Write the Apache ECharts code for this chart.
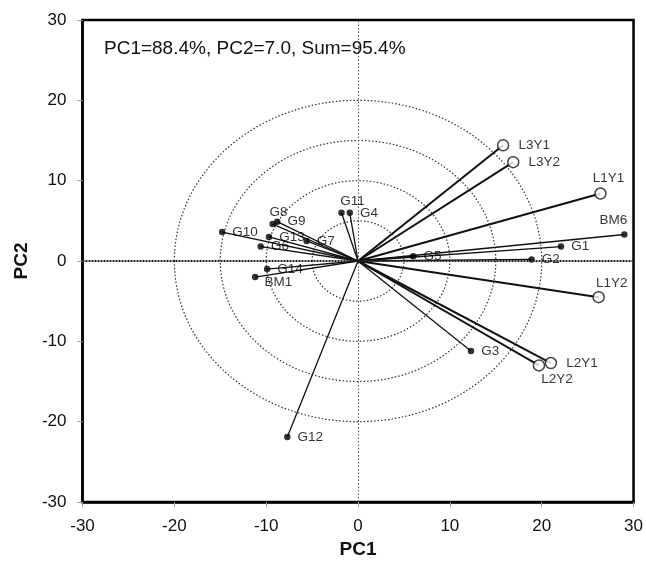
<!DOCTYPE html>
<html>
<head>
<meta charset="utf-8">
<script src="https://cdn.jsdelivr.net/npm/echarts@6/dist/echarts.min.js"></script>
<style>
  html, body { margin: 0; padding: 0; background: #fff; }
  #chart { width: 646px; height: 564px; }
</style>
</head>
<body>
<div id="chart"></div>
<script>
// loadings
const names = ['L3Y1', 'L3Y2', 'L1Y1', 'BM6', 'G1', 'G5', 'G2', 'L1Y2', 'G3', 'L2Y1', 'L2Y2', 'G12',
  'G10', 'G8', 'G9', 'G13', 'G6', 'G7', 'G11', 'G4', 'G14', 'BM1']
const pc1 = [15.8, 16.9, 26.4, 29.0, 22.1, 6.0, 18.9, 26.2, 12.3, 21.0, 19.7, -7.7,
  -14.8, -9.3, -8.8, -9.7, -10.6, -5.6, -1.8, -0.9, -9.9, -11.2]
const pc2 = [14.4, 12.3, 8.4, 3.3, 1.8, 0.6, 0.2, -4.5, -11.2, -12.7, -13.0, -21.9,
  3.6, 4.6, 4.9, 3.0, 1.8, 2.5, 6.0, 6.0, -1.0, -2.0]
const ringRadii = [5, 10, 15, 20]
const ticks = [-30, -20, -10, 0, 10, 20, 30]
const subtitle = 'PC1=88.4%, PC2=7.0, Sum=95.4%'

const font = 'Liberation Sans, Arial, sans-serif'

// label placement per point (default: right)
const labelPlace = {
  G8: { position: 'top', distance: 2, offset: [6, 0] },
  G11: { position: 'top', distance: 1, offset: [11, 0] },
  L1Y1: { position: 'top', distance: 2, offset: [8, 0] },
  BM6: { position: 'top', distance: 4, offset: [-11, 0] },
  L1Y2: { position: 'top', distance: 1, offset: [13, 0] },
  L2Y2: { position: 'bottom', distance: 1, offset: [18, 0] },
  BM1: { position: 'right', distance: 6, offset: [0, 5] },
}

const isOpen = (n) => n.startsWith('L')

function pointItem(i) {
  const n = names[i]
  const place = labelPlace[n] || { position: 'right', distance: isOpen(n) ? 9 : 7 }
  return {
    name: n,
    value: [pc1[i], pc2[i]],
    label: { show: true, formatter: '{b}', ...place },
  }
}

const idx = names.map((_, i) => i)
const openItems = idx.filter((i) => isOpen(names[i])).map(pointItem)
const filledItems = idx.filter((i) => !isOpen(names[i])).map(pointItem)

const chart = echarts.init(document.getElementById('chart'))
chart.setOption({
  animation: false,
  textStyle: { fontFamily: font },
  title: {
    text: subtitle,
    left: 99,
    top: 34,
    textStyle: { fontSize: 19, fontWeight: 'normal', color: '#111', fontFamily: font },
  },
  grid: {
    left: 82.5,
    right: 10.5,
    top: 20,
    bottom: 62,
    show: true,
    borderColor: '#000',
    borderWidth: 2.5,
  },
  xAxis: {
    type: 'value',
    min: -30,
    max: 30,
    interval: 10,
    name: 'PC1',
    nameLocation: 'middle',
    nameGap: 38,
    nameTextStyle: { fontSize: 19, fontWeight: 'bold', color: '#111', fontFamily: font },
    axisLine: { onZero: false, lineStyle: { color: '#000', width: 2.5 } },
    axisTick: { show: true, length: 5, lineStyle: { color: '#999', width: 1 } },
    axisLabel: { fontSize: 17, color: '#111', margin: 16, customValues: ticks },
    splitLine: { show: false },
  },
  yAxis: {
    type: 'value',
    min: -30,
    max: 30,
    interval: 10,
    name: 'PC2',
    nameLocation: 'middle',
    nameGap: 50,
    nameTextStyle: { fontSize: 19, fontWeight: 'bold', color: '#111', fontFamily: font },
    axisLine: { onZero: false, lineStyle: { color: '#000', width: 2.5 } },
    axisTick: { show: true, length: 5, lineStyle: { color: '#999', width: 1 } },
    axisLabel: { fontSize: 17, color: '#111', margin: 16 },
    splitLine: { show: false },
  },
  series: [
    {
      // dotted rings
      type: 'custom',
      coordinateSystem: 'cartesian2d',
      silent: true,
      data: ringRadii.map((r) => [r, 0]),
      renderItem(params, api) {
        const r = api.value(0)
        const c = api.coord([0, 0])
        return {
          type: 'ellipse',
          shape: { cx: c[0], cy: c[1], rx: api.size([r, 0])[0], ry: api.size([0, r])[1] },
          style: { fill: 'none', stroke: '#333', lineWidth: 1.2, lineDash: [1.5, 2] },
        }
      },
      markLine: {
        silent: true,
        symbol: ['none', 'none'],
        label: { show: false },
        data: [
          { xAxis: 0, lineStyle: { color: '#555', width: 1, type: [1.5, 2] } },
          { yAxis: 0, lineStyle: { color: '#222', width: 2, type: [2, 1] } },
        ],
      },
      z: 1,
    },
    {
      // vectors from the origin
      type: 'custom',
      coordinateSystem: 'cartesian2d',
      silent: true,
      data: idx.map((i) => [pc1[i], pc2[i], isOpen(names[i]) ? 1 : 0]),
      renderItem(params, api) {
        const o = api.coord([0, 0])
        const p = api.coord([api.value(0), api.value(1)])
        return {
          type: 'line',
          shape: { x1: o[0], y1: o[1], x2: p[0], y2: p[1] },
          style: { stroke: '#111', lineWidth: api.value(2) ? 2 : 1.3 },
        }
      },
      z: 2,
    },
    {
      type: 'scatter',
      data: filledItems,
      symbol: 'circle',
      symbolSize: 6.5,
      itemStyle: { color: '#000' },
      label: { fontSize: 13.5, color: '#000', fontFamily: font },
      z: 3,
    },
    {
      type: 'scatter',
      data: openItems,
      symbol: 'circle',
      symbolSize: 11,
      itemStyle: { color: '#fff', borderColor: '#111', borderWidth: 1.5 },
      label: { fontSize: 13.5, color: '#000', fontFamily: font },
      z: 3,
    },
  ],
})
</script>
</body>
</html>
